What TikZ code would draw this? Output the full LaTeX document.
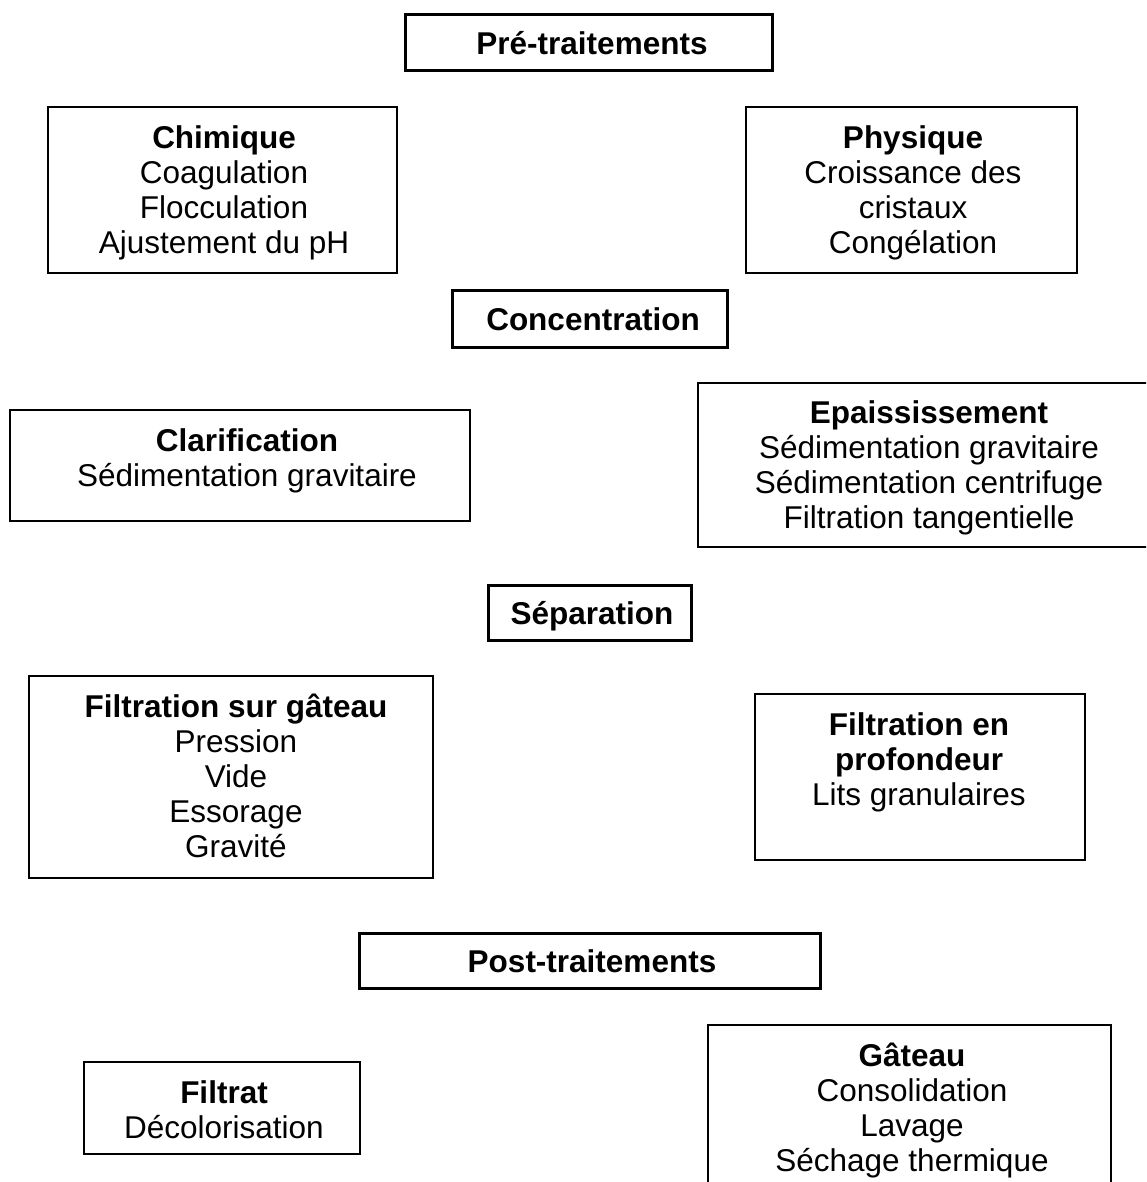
\documentclass[tikz,border=0pt]{standalone}
\usepackage{fontspec}
\setmainfont{Liberation Sans}
\begin{document}
\begin{tikzpicture}[x=1pt,y=-1pt,
  thinbox/.style={draw=black, line width=1.6pt, rectangle, inner sep=0pt},
  headbox/.style={draw=black, line width=3pt, rectangle, inner sep=0pt},
  txt/.style={anchor=north, inner sep=0pt, align=center,
    font=\fontsize{31.5pt}{35pt}\selectfont}
]
\clip (0,0) rectangle (1146,1182);
\fill[white] (0,0) rectangle (1146,1182);

% boxes
\node[headbox, minimum width=367pt, minimum height=56pt] (pre) at (588.5,43) {};
\node[thinbox, minimum width=349pt, minimum height=166pt] (chim) at (222.5,190) {};
\node[thinbox, minimum width=331pt, minimum height=166pt] (phys) at (911.5,190) {};
\node[headbox, minimum width=275pt, minimum height=57pt] (conc) at (589.5,318.5) {};
\node[thinbox, minimum width=460pt, minimum height=111pt] (clar) at (240,465.5) {};
\node[thinbox, minimum width=462pt, minimum height=164pt] (epai) at (929,465) {};
\node[headbox, minimum width=203pt, minimum height=55pt] (sep) at (589.5,612.5) {};
\node[thinbox, minimum width=404pt, minimum height=202pt] (fsg) at (231,777) {};
\node[thinbox, minimum width=330pt, minimum height=166pt] (fep) at (920,777) {};
\node[headbox, minimum width=461pt, minimum height=55pt] (post) at (589.5,960.5) {};
\node[thinbox, minimum width=276pt, minimum height=92pt] (filt) at (222,1108) {};
\node[thinbox, minimum width=403pt, minimum height=175pt] (gat) at (909.5,1112.5) {};

% texts
\node[txt] (preT) at (592,29) {\rule{0pt}{25pt}\textbf{Pré-traitements}};
\node[txt] (chimT) at (224,123) {\rule{0pt}{25pt}\textbf{Chimique}\\Coagulation\\Flocculation\\Ajustement du pH};
\node[txt] (physT) at (913,123) {\rule{0pt}{25pt}\textbf{Physique}\\Croissance des\\cristaux\\Congélation};
\node[txt] (concT) at (593,305) {\rule{0pt}{25pt}\textbf{Concentration}};
\node[txt] (clarT) at (247,426) {\rule{0pt}{25pt}\textbf{Clarification}\\Sédimentation gravitaire};
\node[txt] (epaiT) at (929,398) {\rule{0pt}{25pt}\textbf{Epaississement}\\Sédimentation gravitaire\\Sédimentation centrifuge\\Filtration tangentielle};
\node[txt] (sepT) at (592,599) {\rule{0pt}{25pt}\textbf{Séparation}};
\node[txt] (fsgT) at (236,692) {\rule{0pt}{25pt}\textbf{Filtration sur gâteau}\\Pression\\Vide\\Essorage\\Gravité};
\node[txt] (fepT) at (919,710) {\rule{0pt}{25pt}\textbf{Filtration en}\\\textbf{profondeur}\\Lits granulaires};
\node[txt] (postT) at (592,947) {\rule{0pt}{25pt}\textbf{Post-traitements}};
\node[txt] (filtT) at (224,1078) {\rule{0pt}{25pt}\textbf{Filtrat}\\Décolorisation};
\node[txt] (gatT) at (912,1041) {\rule{0pt}{25pt}\textbf{Gâteau}\\Consolidation\\Lavage\\Séchage thermique};
\end{tikzpicture}
\end{document}
